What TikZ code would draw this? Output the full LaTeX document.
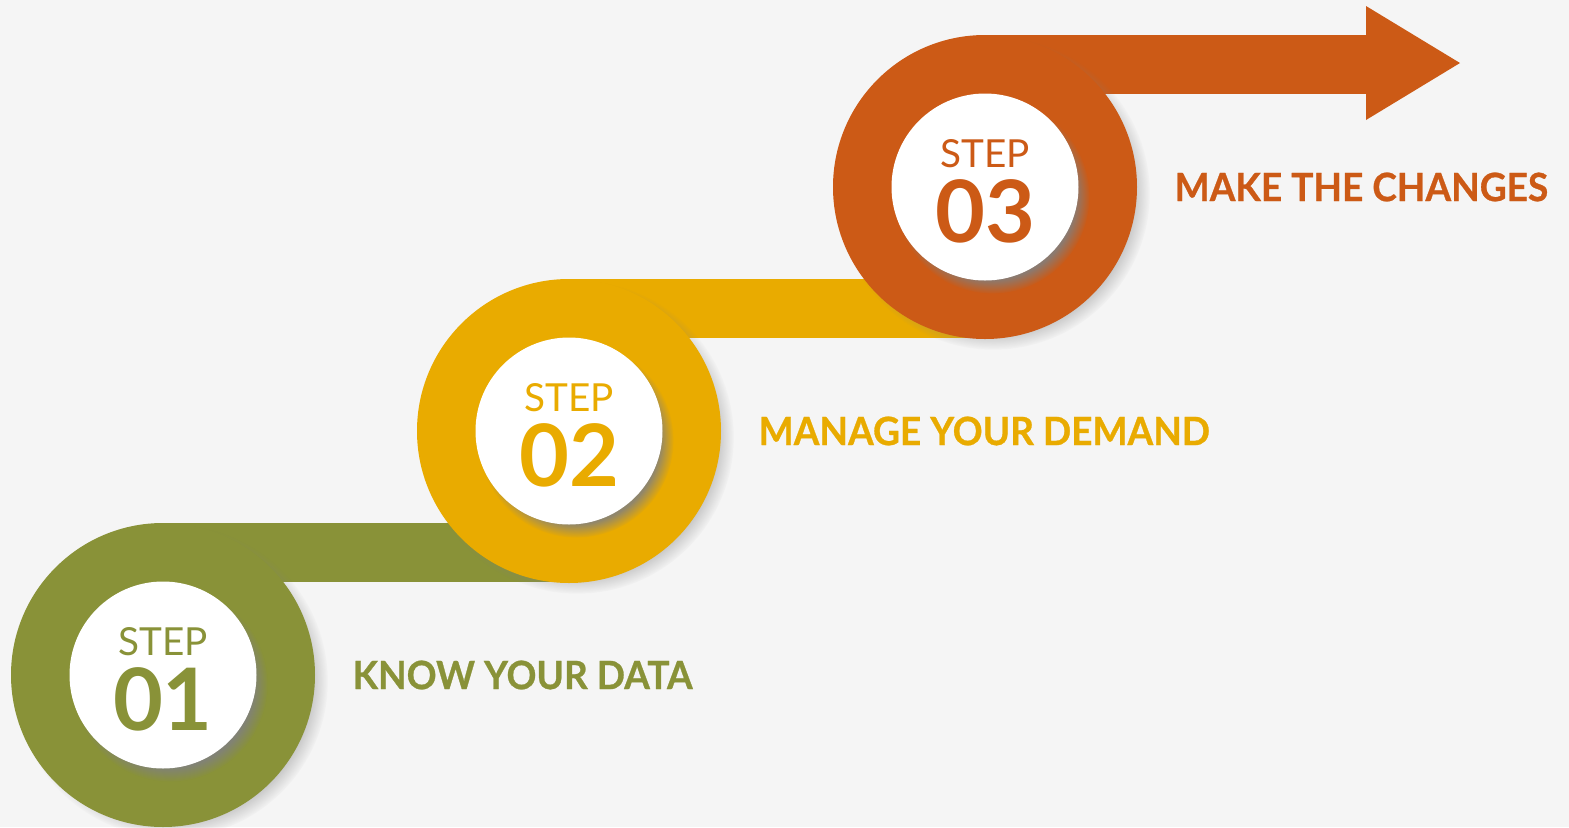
\documentclass[tikz,border=0pt]{standalone}
\usepackage{fontspec}
\setmainfont{Lato}
\newfontfamily\goalfont{Lato}[FakeStretch=0.95, FakeBold=0.7]
\usetikzlibrary{shadows,fadings,positioning}
\definecolor{stepgreen}{HTML}{899238}
\definecolor{stepyellow}{HTML}{E9AB00}
\definecolor{steporange}{HTML}{CC5A16}
\definecolor{bggray}{HTML}{F5F5F5}

\begin{document}
\begin{tikzpicture}[
    ring/.style={circle, fill=#1, minimum size=3.04cm, inner sep=0pt, outer sep=0pt,
        circular drop shadow={shadow xshift=0.8mm, shadow yshift=-0.6mm, shadow scale=1.03, opacity=0.55}},
    disc/.style={circle, fill=white, minimum size=1.87cm, inner sep=0pt, outer sep=0pt,
        circular drop shadow={shadow xshift=0.7mm, shadow yshift=-0.9mm, shadow scale=1.04, opacity=0.85}},
    tagtext/.style={text=#1, anchor=base, inner sep=0pt, font=\fontsize{11}{11}\selectfont},
    numtext/.style={text=#1, anchor=base, inner sep=0pt, font=\fontsize{24.5}{24.5}\selectfont\bfseries},
    goaltext/.style={text=#1, anchor=west, inner sep=0pt, font=\goalfont\fontsize{11.1}{12}\selectfont\bfseries}
]
    \fill[bggray] (0,0) rectangle (15.69,8.27);
    \useasboundingbox (0,0) rectangle (15.69,8.27);
    % circle centres
    \coordinate (p1) at (1.63,1.52);
    \coordinate (p2) at (5.69,3.96);
    \coordinate (p3) at (9.85,6.40);
    \coordinate (head) at (13.66,7.64);
    \coordinate (tip) at (14.60,7.64);
    % bands first, the rings lie on them
    \path (p1) ++(0,1.52) coordinate (t1) ++(0,-0.59) coordinate (b1);
    \path (p2) ++(0,1.52) coordinate (t2) ++(0,-0.59) coordinate (b2);
    \path (p3) ++(0,1.52) coordinate (t3) ++(0,-0.59) coordinate (b3);
    \fill[stepgreen] (t1) rectangle (b1 -| p2);
    \fill[stepyellow] (t2) rectangle (b2 -| p3);
    \fill[steporange] (t3) rectangle (b3 -| head);
    \fill[steporange] (head) ++(0,0.57) -- (tip) -- ([yshift=-0.57cm]head) -- cycle;
    % rings and discs
    \node[ring=stepgreen] (c1) at (p1) {};
    \node[ring=stepyellow] (c2) at (p2) {};
    \node[ring=steporange] (c3) at (p3) {};
    \foreach \i/\col in {1/stepgreen,2/stepyellow,3/steporange}
        {
          \node[disc] (d\i) at (c\i) {};
          \node[tagtext=\col] (s\i) at ([yshift=0.2cm]d\i.center) {STEP};
          \node[numtext=\col] (n\i) at ([yshift=-0.55cm]d\i.center) {0\i};
        };
    \node[goaltext=stepgreen, right=0.37cm of c1] (g1) {KNOW YOUR DATA};
    \node[goaltext=stepyellow, right=0.37cm of c2] (g2) {MANAGE YOUR DEMAND};
    \node[goaltext=steporange, right=0.37cm of c3] (g3) {MAKE THE CHANGES};
\end{tikzpicture}
\end{document}
